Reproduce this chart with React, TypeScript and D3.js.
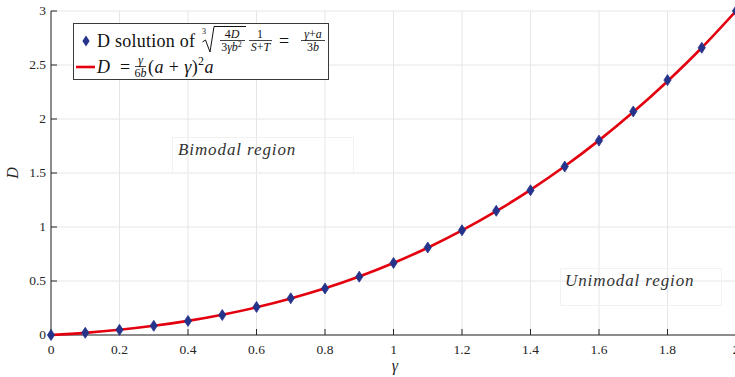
import React from "react";
import * as d3 from "d3";

// γ samples and the corresponding D solution
const gammaValues = [0, 0.1, 0.2, 0.3, 0.4, 0.5, 0.6, 0.7, 0.8, 0.9, 1.0, 1.1, 1.2, 1.3, 1.4, 1.5, 1.6, 1.7, 1.8, 1.9, 2.0];
const dSolution = [0, 0.02, 0.048, 0.085, 0.13, 0.185, 0.26, 0.34, 0.43, 0.54, 0.667, 0.81, 0.97, 1.15, 1.34, 1.56, 1.8, 2.07, 2.36, 2.66, 3.0];
// analytic curve D = γ/(6b)(a+γ)²a, sampled at the same γ
const dCurve = [0, 0.02, 0.048, 0.085, 0.131, 0.1875, 0.256, 0.338, 0.432, 0.542, 0.667, 0.808, 0.968, 1.146, 1.344, 1.5625, 1.802, 2.064, 2.35, 2.66, 3.0];

const xTicks = [0, 0.2, 0.4, 0.6, 0.8, 1, 1.2, 1.4, 1.6, 1.8, 2];
const yTicks = [0, 0.5, 1, 1.5, 2, 2.5, 3];

const W = 735;
const H = 377;
const margin = { left: 51, right: -1, top: 11, bottom: 42 };

const serif = '"Liberation Serif", "Times New Roman", "DejaVu Serif", serif';
const axisColor = "#262626";
const gridColor = "#e6e6e6";
const markerColor = "#26338a";
const lineColor = "#e3000f";

export default function App() {
  const x = d3.scaleLinear().domain([0, 2]).range([margin.left, W - margin.right]);
  const y = d3.scaleLinear().domain([0, 3]).range([H - margin.bottom, margin.top]);

  const line = d3
    .line<number>()
    .x((_, i) => x(gammaValues[i]))
    .y((d) => y(d))
    .curve(d3.curveMonotoneX);

  const diamond = (cx: number, cy: number) =>
    `M${cx},${cy - 5.5}L${cx + 3.6},${cy}L${cx},${cy + 5.5}L${cx - 3.6},${cy}Z`;

  const x0 = x(0);
  const y0 = y(0);
  const ink = "#111";

  return (
    <svg
      width={W}
      height={H}
      style={{ position: "absolute", left: 0, top: 0, background: "#fff", fontFamily: serif }}
    >
      {/* grid */}
      {xTicks.map((t) => (
        <line key={"gx" + t} x1={x(t)} x2={x(t)} y1={y(0)} y2={y(3)} stroke={gridColor} strokeWidth={1} />
      ))}
      {yTicks.map((t) => (
        <line key={"gy" + t} x1={x0} x2={W} y1={y(t)} y2={y(t)} stroke={gridColor} strokeWidth={1} />
      ))}

      {/* region annotations */}
      <rect x={172.5} y={137.5} width={181} height={36} fill="none" stroke="#f2f2f2" />
      <text x={178} y={155} fontSize={17} letterSpacing={0.9} fontStyle="italic" fill="#333" style={{ fontFamily: serif }}>
        Bimodal region
      </text>
      <rect x={560.5} y={268.5} width={161} height={37} fill="none" stroke="#f2f2f2" />
      <text x={565} y={286} fontSize={17} letterSpacing={0.9} fontStyle="italic" fill="#333" style={{ fontFamily: serif }}>
        Unimodal region
      </text>

      {/* axes */}
      <line x1={x0} x2={x0} y1={y(3)} y2={y0} stroke={axisColor} strokeWidth={1} />
      <line x1={x0} x2={W} y1={y0} y2={y0} stroke={axisColor} strokeWidth={1} />
      {xTicks.map((t) => (
        <g key={"xt" + t}>
          <line x1={x(t)} x2={x(t)} y1={y0} y2={y0 - 6} stroke={axisColor} />
          <text x={x(t)} y={y0 + 19} fontSize={13.5} textAnchor="middle" fill={axisColor} style={{ fontFamily: serif }}>
            {t}
          </text>
        </g>
      ))}
      {yTicks.map((t) => (
        <g key={"yt" + t}>
          <line x1={x0} x2={x0 + 6} y1={y(t)} y2={y(t)} stroke={axisColor} />
          <text x={x0 - 5} y={y(t) + 4} fontSize={13.5} textAnchor="end" fill={axisColor} style={{ fontFamily: serif }}>
            {t}
          </text>
        </g>
      ))}
      <text x={395} y={371} fontSize={16} fontStyle="italic" textAnchor="middle" fill={axisColor} style={{ fontFamily: serif }}>
        γ
      </text>
      <text
        transform={`translate(18,${(y(0) + y(3)) / 2}) rotate(-90)`}
        fontSize={16}
        fontStyle="italic"
        textAnchor="middle"
        fill={axisColor}
        style={{ fontFamily: serif }}
      >
        D
      </text>

      {/* curve and solution markers */}
      <path d={line(dCurve) || ""} fill="none" stroke={lineColor} strokeWidth={2.6} />
      {dSolution.map((v, i) => (
        <path key={"m" + i} d={diamond(x(gammaValues[i]), y(v))} fill={markerColor} stroke={markerColor} strokeWidth={0.8} />
      ))}

      {/* legend */}
      <g style={{ fontFamily: serif }} fill={ink}>
        <rect x={73.5} y={23.5} width={255} height={56} fill="#fff" stroke="#3a3a3a" strokeWidth={1} />
        <path d={diamond(86, 41)} fill={markerColor} />
        <text x={97} y={47} fontSize={18} letterSpacing={0.25}>D solution of</text>
        {/* cube root of 4D / 3γb² */}
        <text x={202} y={34} fontSize={8}>3</text>
        <path d="M202.5,42 L205.5,40 L210,52 L214,26.5 L246,26.5" fill="none" stroke={ink} strokeWidth={1} />
        <text x={232} y={38} fontSize={12} textAnchor="middle">
          4<tspan fontStyle="italic">D</tspan>
        </text>
        <line x1={220} x2={245} y1={40.5} y2={40.5} stroke={ink} strokeWidth={0.8} />
        <text x={231.5} y={51} fontSize={12} textAnchor="middle">
          3<tspan fontStyle="italic">γb</tspan>
          <tspan fontSize={8} dy={-4}>2</tspan>
        </text>
        {/* 1 / (S+T) */}
        <text x={260} y={38} fontSize={12} textAnchor="middle">1</text>
        <line x1={249} x2={272} y1={40.5} y2={40.5} stroke={ink} strokeWidth={0.8} />
        <text x={260.5} y={51} fontSize={12} textAnchor="middle">
          <tspan fontStyle="italic">S</tspan>+<tspan fontStyle="italic">T</tspan>
        </text>
        <text x={284} y={47} fontSize={18} textAnchor="middle">=</text>
        {/* (γ+a) / 3b */}
        <text x={313} y={38} fontSize={12} textAnchor="middle">
          <tspan fontStyle="italic">γ</tspan>+<tspan fontStyle="italic">a</tspan>
        </text>
        <line x1={301} x2={325} y1={40.5} y2={40.5} stroke={ink} strokeWidth={0.8} />
        <text x={313} y={51} fontSize={12} textAnchor="middle">
          3<tspan fontStyle="italic">b</tspan>
        </text>

        {/* second entry */}
        <line x1={76} x2={95} y1={67} y2={67} stroke={lineColor} strokeWidth={2.6} />
        <text x={97} y={73} fontSize={18} fontStyle="italic">D</text>
        <text x={125} y={73} fontSize={18} textAnchor="middle">=</text>
        <text x={140.5} y={64} fontSize={12} textAnchor="middle" fontStyle="italic">γ</text>
        <line x1={135} x2={146} y1={66.5} y2={66.5} stroke={ink} strokeWidth={0.8} />
        <text x={140.5} y={77} fontSize={12} textAnchor="middle">
          6<tspan fontStyle="italic">b</tspan>
        </text>
        <text x={148} y={73} fontSize={18} letterSpacing={0.4}>
          (<tspan fontStyle="italic">a</tspan> + <tspan fontStyle="italic">γ</tspan>)<tspan fontSize={12} dy={-8}>2</tspan><tspan fontStyle="italic" dy={8}>a</tspan>
        </text>
      </g>
    </svg>
  );
}
